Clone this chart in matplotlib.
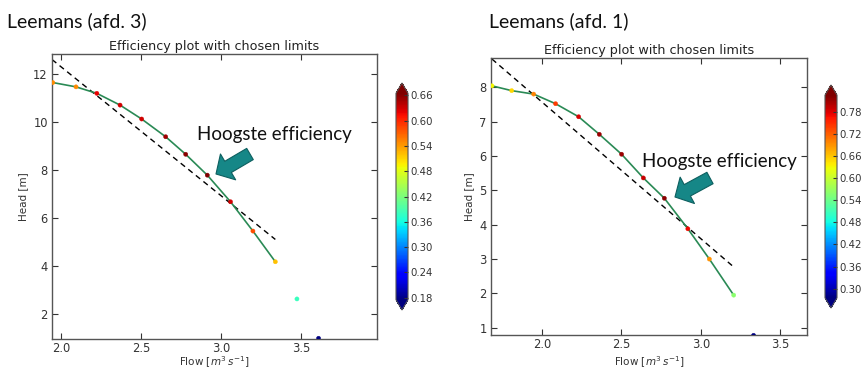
import numpy as np
import matplotlib.pyplot as plt
from matplotlib.patches import FancyArrowPatch
from matplotlib.colors import Normalize

# Leemans (afd. 3)
flow3 = [1.95, 2.095, 2.225, 2.37, 2.505, 2.655, 2.78, 2.915, 3.06, 3.20, 3.34, 3.475, 3.61]
head3 = [11.66, 11.48, 11.21, 10.72, 10.14, 9.40, 8.67, 7.80, 6.69, 5.47, 4.19, 2.64, 1.0]
eff3 = [0.55, 0.55, 0.62, 0.63, 0.63, 0.65, 0.66, 0.67, 0.63, 0.58, 0.52, 0.38, 0.17]
line3_n = 11  # green curve runs through the first 11 points
dash3_x = [1.945, 3.34]
dash3_y = [12.62, 5.12]
ticks3 = [0.18, 0.24, 0.30, 0.36, 0.42, 0.48, 0.54, 0.60, 0.66]

# Leemans (afd. 1)
flow1 = [1.686, 1.81, 1.948, 2.086, 2.231, 2.361, 2.501, 2.638, 2.77, 2.918, 3.053, 3.206, 3.331]
head1 = [8.04, 7.90, 7.80, 7.52, 7.14, 6.63, 6.05, 5.36, 4.77, 3.88, 3.00, 1.95, 0.78]
eff1 = [0.63, 0.65, 0.70, 0.74, 0.78, 0.81, 0.81, 0.79, 0.82, 0.77, 0.69, 0.56, 0.27]
line1_n = 12
dash1_x = [1.686, 3.206]
dash1_y = [8.82, 2.77]
ticks1 = [0.30, 0.36, 0.42, 0.48, 0.54, 0.60, 0.66, 0.72, 0.78]

W, H = 866, 370
fig = plt.figure(figsize=(W / 100, H / 100), dpi=100)
fig.patch.set_facecolor('white')


def box(x0, y0, x1, y1):
    # pixel box (top-left origin) -> figure fraction rect
    return [x0 / W, 1 - y1 / H, (x1 - x0) / W, (y1 - y0) / H]


def panel(rect, crect, flow, head, eff, n, dx, dy, xlim, ylim, xticks, yticks,
          vmin, vmax, cticks, name, name_xy, txt_xy, arr_from, arr_to):
    ax = fig.add_axes(box(*rect))
    norm = Normalize(vmin, vmax)
    ax.plot(dx, dy, '--', color='black', lw=1.0, dashes=(4, 3), zorder=2)
    ax.plot(flow[:n], head[:n], color='#2a8a55', lw=1.2, zorder=3)
    sc = ax.scatter(flow, head, c=eff, cmap='jet', norm=norm, s=9,
                    edgecolors='face', linewidths=0.3, zorder=4)
    ax.set_xlim(*xlim)
    ax.set_ylim(*ylim)
    ax.set_xticks(xticks)
    ax.set_yticks(yticks)
    ax.tick_params(direction='in', top=True, right=True, length=4,
                   labelsize=8.3, colors='#333333', pad=3)
    ax.tick_params(axis='x', pad=2)
    for s in ax.spines.values():
        s.set_color('#555555')
        s.set_linewidth(1.0)
    ax.set_title('Efficiency plot with chosen limits', fontsize=9.2,
                 color='#222222', pad=3)
    ax.set_xlabel(r'Flow [$m^3\,s^{-1}$]', fontsize=7.5, color='#333333')
    ax.set_ylabel('Head [m]', fontsize=7.5, color='#333333', labelpad=4)
    # x-label centre sits at about y = 362 px
    ax.xaxis.set_label_coords(0.5, -(362 - rect[3]) / (rect[3] - rect[1]))
    ax.xaxis.label.set_va('center')

    cax = fig.add_axes(box(*crect))
    cb = fig.colorbar(sc, cax=cax, extend='both', ticks=cticks)
    cb.ax.set_yticklabels(['%.2f' % t for t in cticks])
    cb.ax.tick_params(direction='in', length=3, labelsize=7.3, colors='#333333', pad=1.5)
    cb.outline.set_edgecolor('#555555')
    cb.outline.set_linewidth(0.8)

    fig.text(name_xy[0] / W, 1 - name_xy[1] / H, name, fontsize=14,
             family=['Lato', 'DejaVu Sans'], color='#111111', va='center', ha='left')
    fig.text(txt_xy[0] / W, 1 - txt_xy[1] / H, 'Hoogste efficiency', fontsize=13.5,
             family=['Lato', 'DejaVu Sans'], color='#111111', va='center', ha='left')
    arr = FancyArrowPatch((arr_from[0] / W, 1 - arr_from[1] / H),
                          (arr_to[0] / W, 1 - arr_to[1] / H),
                          transform=fig.transFigure, shrinkA=0, shrinkB=0,
                          arrowstyle='simple,head_length=1.4,head_width=3.0,tail_width=1.3',
                          mutation_scale=7.2, facecolor='#168787',
                          edgecolor='#0d5f5f', lw=0.8)
    fig.add_artist(arr)


panel((52, 54, 377, 339), (396, 83, 408, 310), flow3, head3, eff3, line3_n,
      dash3_x, dash3_y, (1.945, 3.975), (0.97, 12.85), [2.0, 2.5, 3.0, 3.5],
      [2, 4, 6, 8, 10, 12], 0.175, 0.665, ticks3, 'Leemans (afd. 3)',
      (7, 21), (197, 134), (250, 154), (216, 174))

panel((491, 58, 807, 335), (825, 85, 837, 308), flow1, head1, eff1, line1_n,
      dash1_x, dash1_y, (1.68, 3.667), (0.79, 8.85), [2.0, 2.5, 3.0, 3.5],
      [1, 2, 3, 4, 5, 6, 7, 8], 0.275, 0.825, ticks1, 'Leemans (afd. 1)',
      (489, 21), (642, 162), (710, 178), (675, 197))

fig.savefig('out.png', dpi=100, facecolor='white')
